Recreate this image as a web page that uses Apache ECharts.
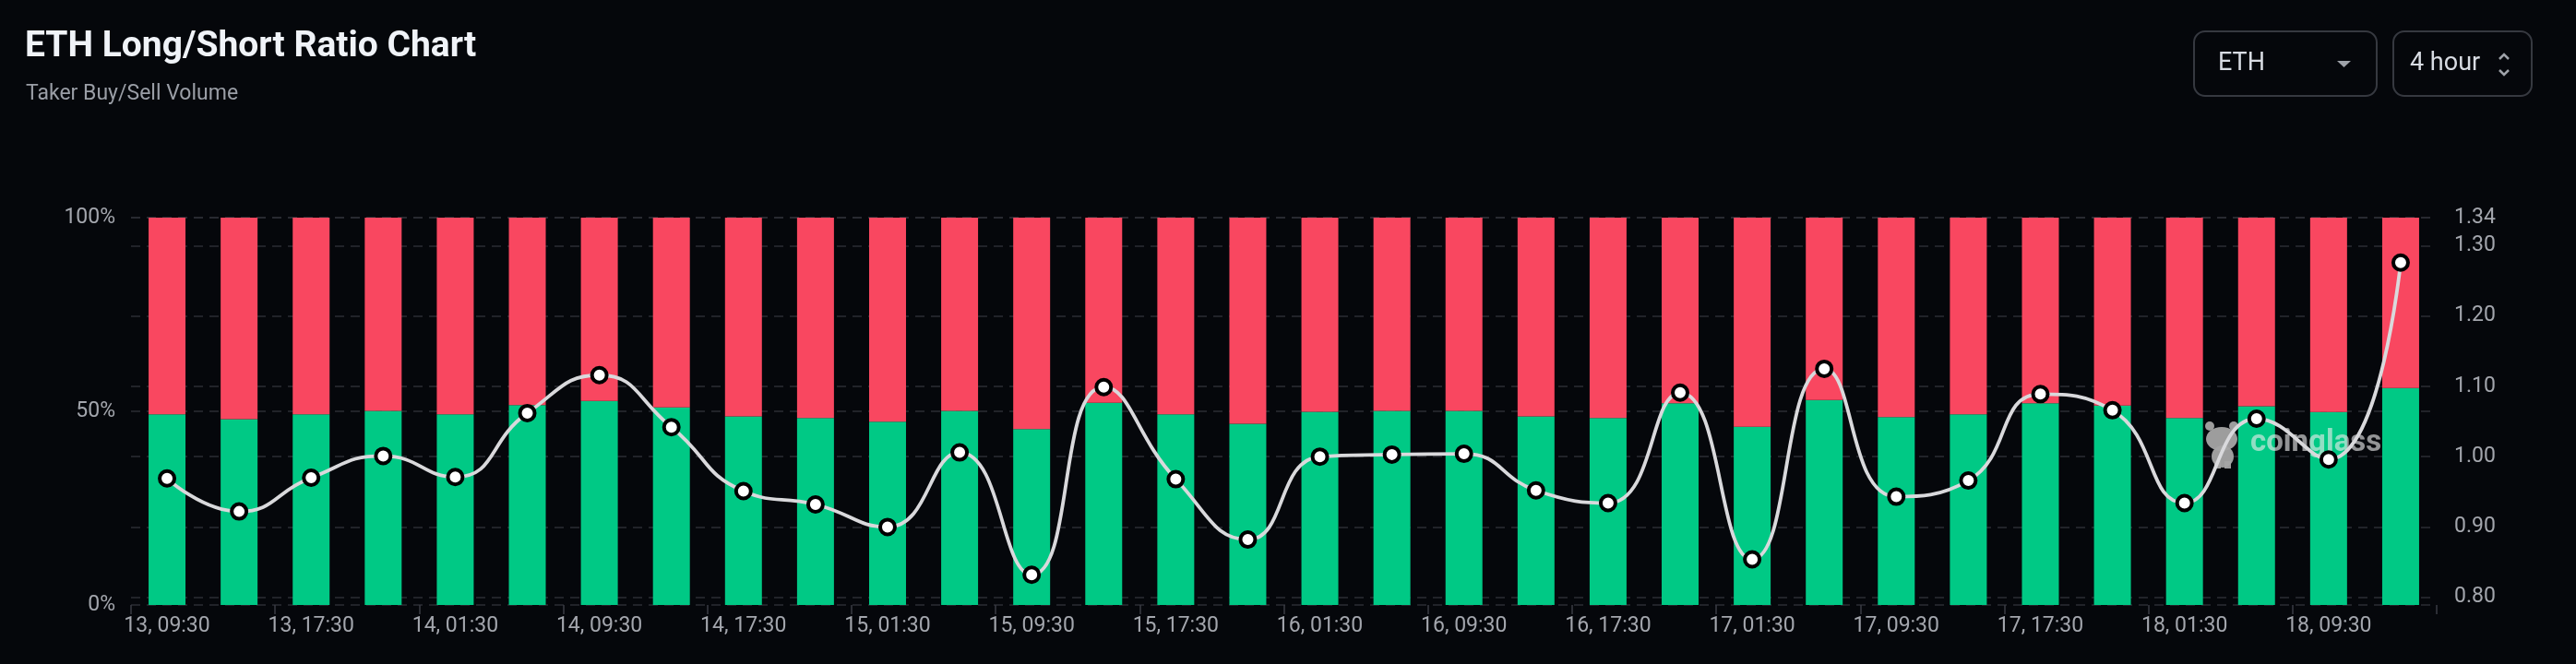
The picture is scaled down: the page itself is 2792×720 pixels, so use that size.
<!DOCTYPE html>
<html>
<head>
<meta charset="utf-8">
<script src="https://cdn.jsdelivr.net/npm/echarts@6/dist/echarts.min.js"></script>
<style>
html,body{margin:0;padding:0;background:#05070b;}
#chart{width:2792px;height:720px;}
</style>
</head>
<body>
<div id="chart"></div>
<script>
const categories = ["13, 09:30","13, 13:30","13, 17:30","13, 21:30","14, 01:30","14, 05:30","14, 09:30","14, 13:30","14, 17:30","14, 21:30","15, 01:30","15, 05:30","15, 09:30","15, 13:30","15, 17:30","15, 21:30","16, 01:30","16, 05:30","16, 09:30","16, 13:30","16, 17:30","16, 21:30","17, 01:30","17, 05:30","17, 09:30","17, 13:30","17, 17:30","17, 21:30","18, 01:30","18, 05:30","18, 09:30","18, 13:30"];
const longPct = [49.2,48.0,49.2,50.1,49.2,51.6,52.7,51.0,48.7,48.3,47.3,50.1,45.4,52.2,49.2,46.8,49.9,50.1,50.1,48.7,48.3,52.1,46.0,52.9,48.5,49.2,52.1,51.5,48.3,51.3,49.8,56.0];
const shortPct = [50.8,52.0,50.8,49.9,50.8,48.4,47.3,49.0,51.3,51.7,52.7,49.9,54.6,47.8,50.8,53.2,50.1,49.9,49.9,51.3,51.7,47.9,54.0,47.1,51.5,50.8,47.9,48.5,51.7,48.7,50.2,44.0];
const ratio = [0.969,0.922,0.970,1.001,0.971,1.062,1.116,1.042,0.951,0.932,0.900,1.006,0.832,1.099,0.968,0.882,1.000,1.003,1.004,0.952,0.934,1.091,0.854,1.125,0.943,0.966,1.089,1.066,0.934,1.054,0.996,1.276];
const leftTicks = [0, 50, 100];
const rightTicks = [0.80, 0.90, 1.00, 1.10, 1.20, 1.30, 1.34];

const chart = echarts.init(document.getElementById('chart'));
const gridLine = {show:true, lineStyle:{color:'#2b2e34', width:1.5, type:[10,7]}};
const labelFont = {color:'#a3a6ad', fontFamily:'Roboto', fontSize:23};
const logoFill = 'rgba(165,165,165,0.95)';

chart.setOption({
  backgroundColor:'#05070b',
  animation:false,
  title:[
    {text:'ETH Long/Short Ratio Chart', left:22, top:27,
     textStyle:{color:'#f0f3f8', fontFamily:'Roboto', fontWeight:'bold', fontSize:39}},
    {text:'Taker Buy/Sell Volume', left:23, top:86,
     textStyle:{color:'#9a9ea6', fontFamily:'Roboto', fontWeight:'normal', fontSize:23}}
  ],
  grid:{left:142, right:151, top:236, bottom:64},
  xAxis:{
    type:'category', data:categories, boundaryGap:true,
    axisLine:{show:false},
    axisTick:{show:true, interval:1, length:10, lineStyle:{color:'#3a3d44', width:1.5}},
    axisLabel:Object.assign({interval:1, margin:12}, labelFont),
    splitLine:{show:false}
  },
  yAxis:[
    {type:'value', min:0, max:100, interval:50, position:'left',
     axisLine:{show:false}, axisTick:{show:false},
     axisLabel:Object.assign({margin:17, formatter:'{value}%'}, labelFont),
     splitLine:gridLine},
    {type:'value', min:0.789, max:1.34, position:'right',
     axisLine:{show:false},
     axisTick:{show:false, customValues:rightTicks},
     axisLabel:Object.assign({margin:19, customValues:rightTicks, formatter:v=>v.toFixed(2)}, labelFont),
     splitLine:gridLine}
  ],
  graphic:[
    {type:'rect', shape:{x:2378, y:34, width:198, height:70, r:12},
     style:{fill:'none', stroke:'#363940', lineWidth:2}},
    {type:'text', x:2404, y:69, style:{text:'ETH', fill:'#d8dce3', font:'27px Roboto', textVerticalAlign:'middle'}},
    {type:'polygon', shape:{points:[[2533,66],[2548,66],[2540.5,73]]}, style:{fill:'#9ea2a9'}},
    {type:'rect', shape:{x:2594, y:34, width:150, height:70, r:12},
     style:{fill:'none', stroke:'#363940', lineWidth:2}},
    {type:'text', x:2612, y:69, style:{text:'4 hour', fill:'#d8dce3', font:'27px Roboto', textVerticalAlign:'middle'}},
    {type:'polyline', shape:{points:[[2709,64],[2714,59],[2719,64]]}, style:{stroke:'#9ea2a9', lineWidth:2.5, fill:'none'}},
    {type:'polyline', shape:{points:[[2709,76],[2714,81],[2719,76]]}, style:{stroke:'#9ea2a9', lineWidth:2.5, fill:'none'}},
    {type:'ellipse', z:5, shape:{cx:2408, cy:476, rx:17, ry:13}, style:{fill:logoFill}},
    {type:'circle', z:5, shape:{cx:2395, cy:462, r:5}, style:{fill:logoFill}},
    {type:'circle', z:5, shape:{cx:2421, cy:462, r:5}, style:{fill:logoFill}},
    {type:'ellipse', z:5, shape:{cx:2409, cy:495, rx:12, ry:12}, style:{fill:logoFill}},
    {type:'rect', z:5, shape:{x:2400, y:500, width:7, height:8}, style:{fill:logoFill}},
    {type:'rect', z:5, shape:{x:2411, y:500, width:7, height:8}, style:{fill:logoFill}},
    {type:'text', z:5, x:2439, y:497, style:{text:'coinglass', fill:'rgba(235,235,235,0.62)', font:'bold 33px Roboto', textVerticalAlign:'bottom'}}
  ],
  series:[
    {name:'Long', type:'bar', stack:'ls', yAxisIndex:0, data:longPct, barWidth:40, z:1,
     itemStyle:{color:'#00c985'}},
    {name:'Short', type:'bar', stack:'ls', yAxisIndex:0, data:shortPct, barWidth:40, z:1,
     itemStyle:{color:'#f94760'}},
    {name:'Long/Short Ratio', type:'line', yAxisIndex:1, data:ratio, smooth:true, z:10,
     symbol:'circle', symbolSize:16, showAllSymbol:true,
     lineStyle:{color:'#d9d9dc', width:3.8},
     itemStyle:{color:'#ffffff', borderColor:'#000000', borderWidth:4}}
  ]
});
</script>
</body>
</html>
